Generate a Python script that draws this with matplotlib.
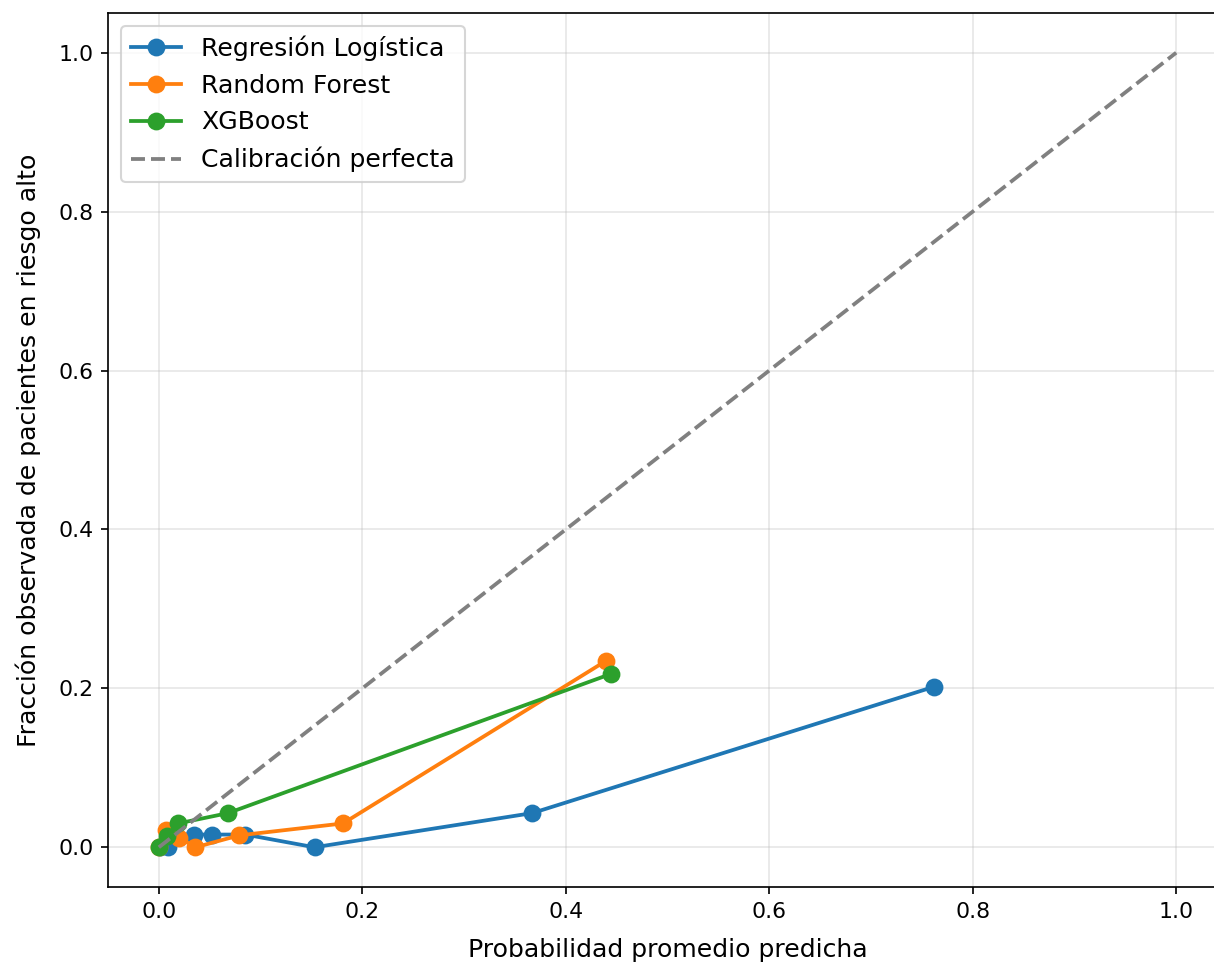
import matplotlib
matplotlib.use("Agg")
import matplotlib.pyplot as plt

# Calibration curve data

lr_pred = [0.001, 0.009, 0.035, 0.052, 0.085, 0.153, 0.367, 0.762]
lr_obs = [0.0, 0.0, 0.016, 0.016, 0.016, 0.0, 0.043, 0.202]

rf_pred = [0.0, 0.007, 0.020, 0.036, 0.079, 0.181, 0.440]
rf_obs = [0.0, 0.022, 0.012, 0.0, 0.015, 0.030, 0.235]

xgb_pred = [0.0, 0.008, 0.019, 0.068, 0.444]
xgb_obs = [0.0, 0.014, 0.030, 0.043, 0.218]

perfect = [0, 1]

dpi = 151
fig = plt.figure(figsize=(1214 / dpi, 965 / dpi), dpi=dpi)

# the reference is clipped on the right, so the axes run past the figure edge
ax = fig.add_axes([108 / 1214, 78 / 965, 1119 / 1214, 874 / 965])

ax.plot(lr_pred, lr_obs, marker="o", markersize=7.5, linewidth=1.8, label="Regresión Logística")
ax.plot(rf_pred, rf_obs, marker="o", markersize=7.5, linewidth=1.8, label="Random Forest")
ax.plot(xgb_pred, xgb_obs, marker="o", markersize=7.5, linewidth=1.8, label="XGBoost")
ax.plot(perfect, perfect, linestyle="--", color="gray", linewidth=1.8, label="Calibración perfecta")

ax.set_xlim(-0.05, 1.05)
ax.set_ylim(-0.05, 1.05)

ax.set_xlabel("Probabilidad promedio predicha", fontsize=12, labelpad=8)
ax.set_ylabel("Fracción observada de pacientes en riesgo alto", fontsize=12, labelpad=8)
ax.tick_params(labelsize=10.5)

ax.grid(True, alpha=0.3)
ax.legend(fontsize=12, loc="upper left")

fig.savefig("out.png", dpi=dpi)
